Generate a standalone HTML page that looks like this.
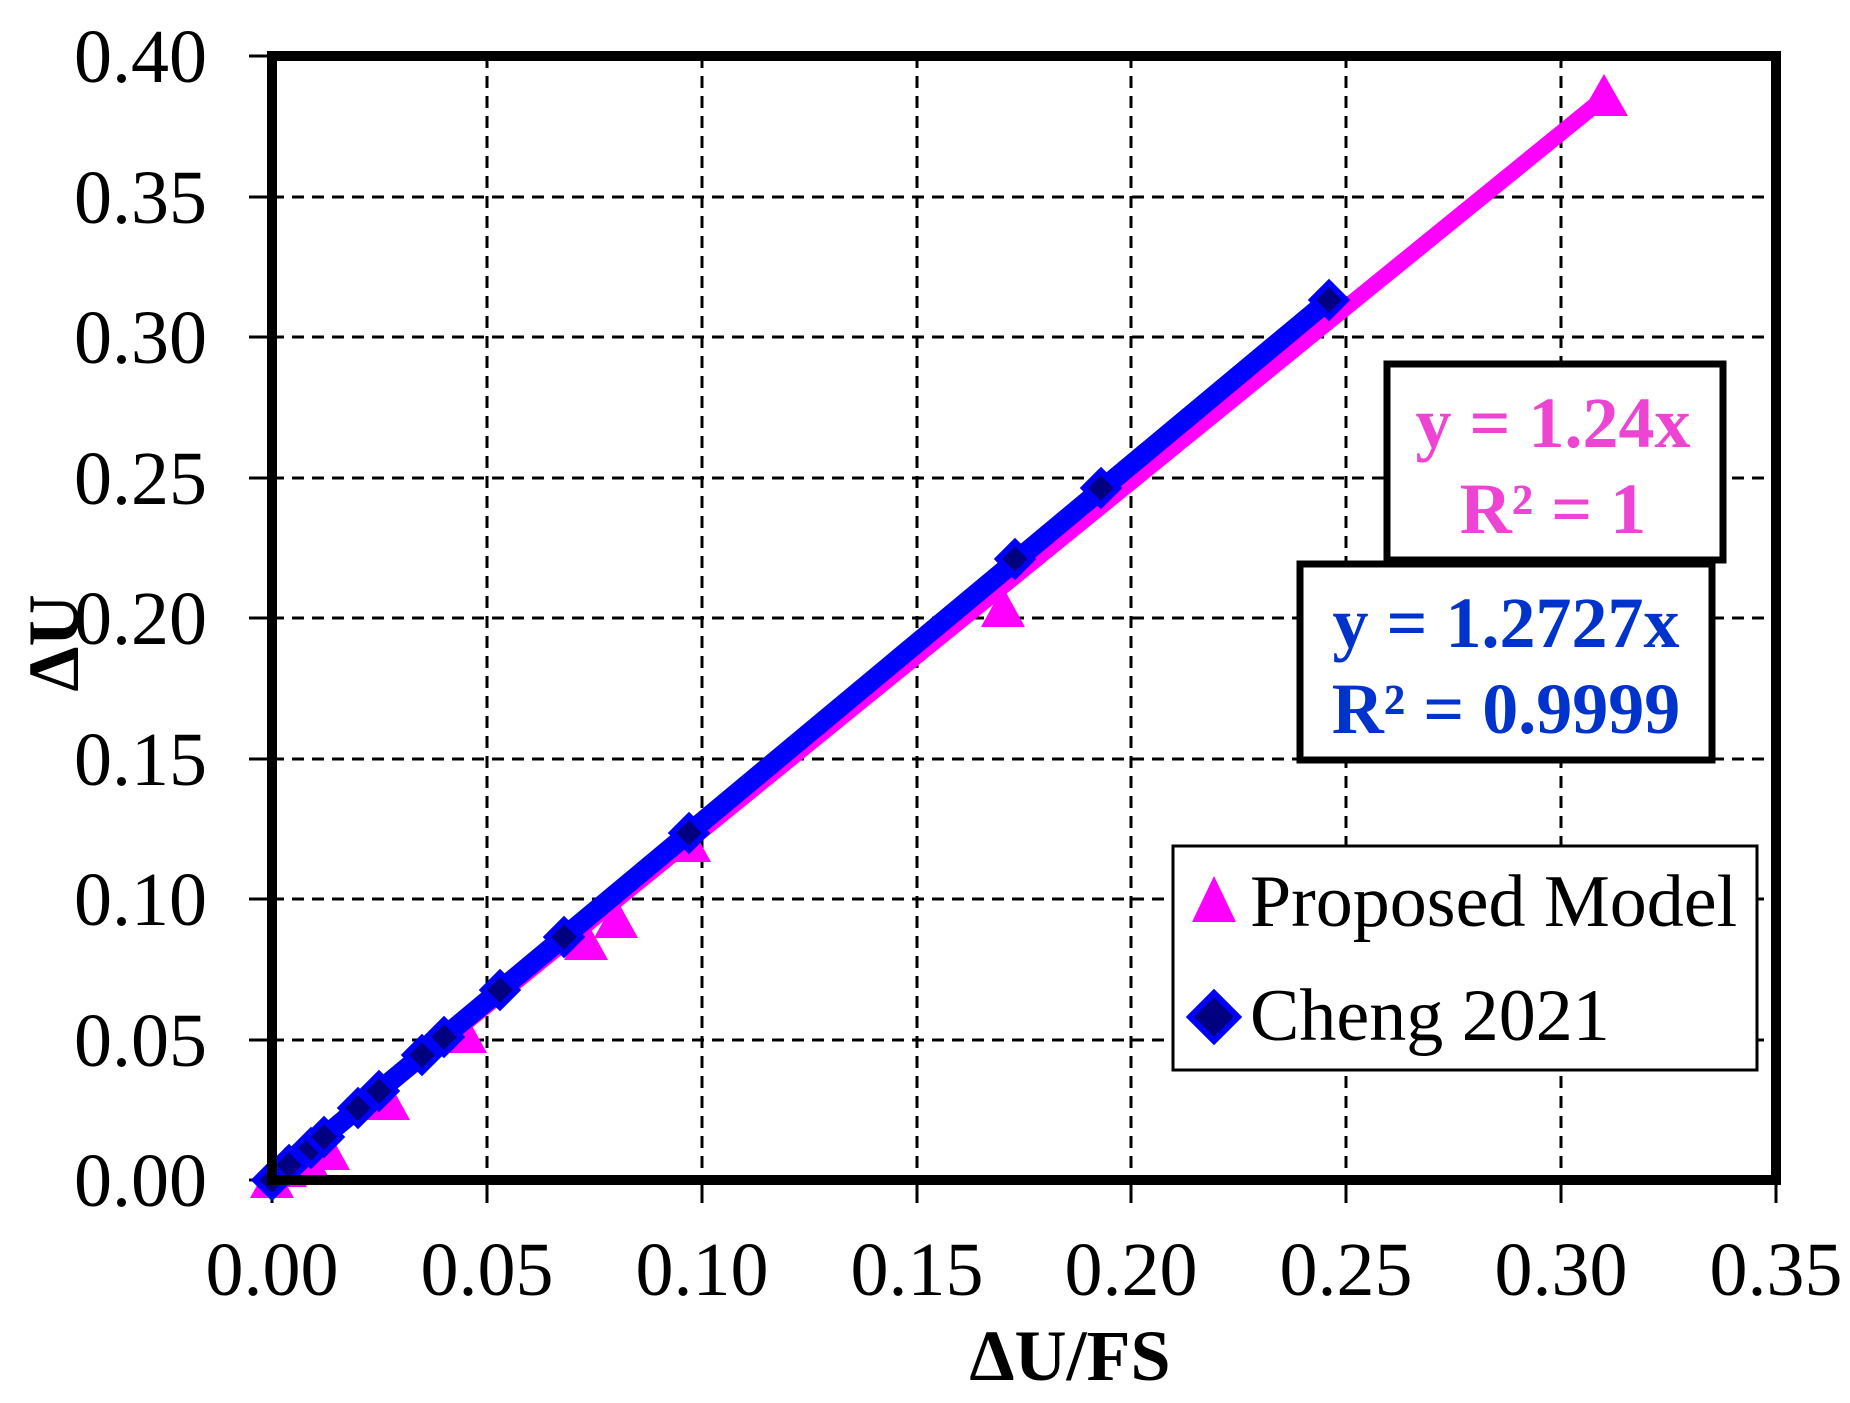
<!DOCTYPE html>
<html><head><meta charset="utf-8"><style>
html,body{margin:0;padding:0;background:#fff;}
svg{display:block;}
text{font-family:"Liberation Serif",serif;}
</style></head><body>
<svg width="1850" height="1403" viewBox="0 0 1850 1403" xmlns="http://www.w3.org/2000/svg">
<rect width="1850" height="1403" fill="#fff"/>
<g stroke="#000" stroke-width="3" stroke-dasharray="12,8">
<line x1="487" y1="56" x2="487" y2="1180"/>
<line x1="702" y1="56" x2="702" y2="1180"/>
<line x1="917" y1="56" x2="917" y2="1180"/>
<line x1="1131" y1="56" x2="1131" y2="1180"/>
<line x1="1346" y1="56" x2="1346" y2="1180"/>
<line x1="1561" y1="56" x2="1561" y2="1180"/>
<line x1="272" y1="197" x2="1776" y2="197"/>
<line x1="272" y1="337" x2="1776" y2="337"/>
<line x1="272" y1="478" x2="1776" y2="478"/>
<line x1="272" y1="618" x2="1776" y2="618"/>
<line x1="272" y1="759" x2="1776" y2="759"/>
<line x1="272" y1="899" x2="1776" y2="899"/>
<line x1="272" y1="1040" x2="1776" y2="1040"/>
</g>
<g stroke="#000" stroke-width="3">
<line x1="249" y1="56" x2="272" y2="56"/><line x1="249" y1="197" x2="272" y2="197"/>
<line x1="249" y1="337" x2="272" y2="337"/><line x1="249" y1="478" x2="272" y2="478"/>
<line x1="249" y1="618" x2="272" y2="618"/><line x1="249" y1="759" x2="272" y2="759"/>
<line x1="249" y1="899" x2="272" y2="899"/><line x1="249" y1="1040" x2="272" y2="1040"/>
<line x1="249" y1="1180" x2="272" y2="1180"/>
<line x1="272" y1="1180" x2="272" y2="1203"/><line x1="487" y1="1180" x2="487" y2="1203"/>
<line x1="702" y1="1180" x2="702" y2="1203"/><line x1="917" y1="1180" x2="917" y2="1203"/>
<line x1="1131" y1="1180" x2="1131" y2="1203"/><line x1="1346" y1="1180" x2="1346" y2="1203"/>
<line x1="1561" y1="1180" x2="1561" y2="1203"/><line x1="1776" y1="1180" x2="1776" y2="1203"/>
</g>
<!-- series -->
<line x1="272" y1="1180" x2="1604" y2="98" stroke="#ff00ff" stroke-width="16"/>
<g fill="#ff00ff">
<polygon points="272,1158 250,1198 294,1198"/>
<polygon points="285,1147 263,1187 307,1187"/>
<polygon points="306,1136 284,1176 328,1176"/>
<polygon points="328,1130 306,1170 350,1170"/>
<polygon points="388,1080 366,1120 410,1120"/>
<polygon points="465,1013 443,1053 487,1053"/>
<polygon points="586,920 564,960 608,960"/>
<polygon points="616,898 594,938 638,938"/>
<polygon points="689,822 667,862 711,862"/>
<polygon points="1003,587 981,627 1025,627"/>
<polygon points="1604,74 1580,116 1628,116"/>
</g>
<line x1="272" y1="1180" x2="1329" y2="300" stroke="#0000ff" stroke-width="20"/>
<g fill="#000080" stroke="#0000ff" stroke-width="6">
<polygon points="272,1163 289,1180 272,1197 255,1180"/>
<polygon points="289,1148 306,1165 289,1182 272,1165"/>
<polygon points="311,1131 328,1148 311,1165 294,1148"/>
<polygon points="324,1120 341,1137 324,1154 307,1137"/>
<polygon points="358,1091 375,1108 358,1125 341,1108"/>
<polygon points="379,1074 396,1091 379,1108 362,1091"/>
<polygon points="422,1038 439,1055 422,1072 405,1055"/>
<polygon points="444,1020 461,1037 444,1054 427,1037"/>
<polygon points="500,973 517,990 500,1007 483,990"/>
<polygon points="564,920 581,937 564,954 547,937"/>
<polygon points="689,816 706,833 689,850 672,833"/>
<polygon points="1015,542 1032,559 1015,576 998,559"/>
<polygon points="1101,471 1118,488 1101,505 1084,488"/>
<polygon points="1329,283 1346,300 1329,317 1312,300"/>
</g>
<!-- axes frame -->
<rect x="272" y="56" width="1504" height="1124" fill="none" stroke="#000" stroke-width="10"/>
<!-- labels -->
<g font-size="76" text-anchor="end" fill="#000">
<text x="207" y="82">0.40</text><text x="207" y="223">0.35</text>
<text x="207" y="363">0.30</text><text x="207" y="504">0.25</text>
<text x="207" y="644">0.20</text><text x="207" y="785">0.15</text>
<text x="207" y="925">0.10</text><text x="207" y="1066">0.05</text>
<text x="207" y="1206">0.00</text>
</g>
<g font-size="76" text-anchor="middle" fill="#000">
<text x="272" y="1295">0.00</text><text x="487" y="1295">0.05</text>
<text x="702" y="1295">0.10</text><text x="917" y="1295">0.15</text>
<text x="1131" y="1295">0.20</text><text x="1346" y="1295">0.25</text>
<text x="1561" y="1295">0.30</text><text x="1776" y="1295">0.35</text>
</g>
<text x="1070" y="1380" font-size="72" font-weight="bold" text-anchor="middle">ΔU/FS</text>
<text transform="translate(78,643) rotate(-90)" font-size="72" font-weight="bold" text-anchor="middle">ΔU</text>
<!-- equation boxes -->
<rect x="1387" y="364" width="336" height="196" fill="#fff" stroke="#000" stroke-width="7"/>
<g font-size="72" font-weight="bold" fill="#ee44d4" text-anchor="middle">
<text x="1553" y="447">y = 1.24x</text><text x="1553" y="533">R² = 1</text>
</g>
<rect x="1300" y="564" width="412" height="196" fill="#fff" stroke="#000" stroke-width="7"/>
<g font-size="72" font-weight="bold" fill="#0033cc" text-anchor="middle">
<text x="1506" y="647">y = 1.2727x</text><text x="1506" y="733">R² = 0.9999</text>
</g>
<!-- legend -->
<rect x="1173" y="846" width="584" height="224" fill="#fff" stroke="#000" stroke-width="3"/>
<polygon points="1214,876 1192,922 1236,922" fill="#ff00ff"/>
<text x="1250" y="926" font-size="74">Proposed Model</text>
<polygon points="1214,993 1238,1017 1214,1041 1190,1017" fill="#000080" stroke="#0000ff" stroke-width="6"/>
<text x="1250" y="1040" font-size="74">Cheng 2021</text>
</svg>
</body></html>
